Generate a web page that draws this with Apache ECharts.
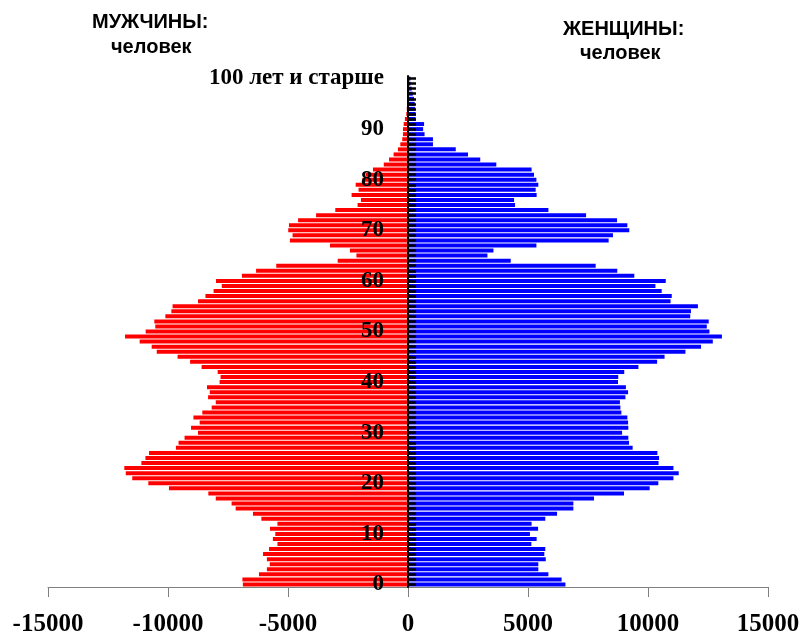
<!DOCTYPE html>
<html>
<head>
<meta charset="utf-8">
<script src="https://cdn.jsdelivr.net/npm/echarts@6/dist/echarts.min.js"></script>
<style>
html,body{margin:0;padding:0;background:#fff;}
#chart{width:803px;height:637px;}
</style>
</head>
<body>
<div id="chart"></div>
<script>
// Ages 0..100 (last = "100 лет и старше")
const ages = Array.from({length: 101}, (_, i) => String(i));
const topAgeLabel = '100 лет и старше';

// Men, persons (drawn to the left as negative values), age 0..100
const men = [
  6880, 6900, 6210, 5880, 5760, 5880, 6040, 5790, 5440, 5630,
  5530, 5750, 5440, 6110, 6460, 7180, 7350, 8010, 8320, 9960,
  10820, 11490, 11760, 11820, 11110, 10940, 10790, 9670, 9560, 9310,
  8750, 9040, 8680, 8940, 8570, 8180, 8010, 8330, 8260, 8375,
  7850, 7810, 7930, 8600, 9080, 9600, 10470, 10680, 11180, 11790,
  10930, 10530, 10570, 10110, 9860, 9810, 8750, 8440, 8100, 7760,
  8000, 6920, 6330, 5490, 2930, 2150, 2420, 3250, 4920, 4810,
  4990, 4960, 4580, 3830, 3030, 2100, 1960, 2350, 2060, 2180,
  1900, 1750, 1460, 1010, 790, 600, 420, 320, 240, 210,
  210, 180, 130, 70, 50, 40, 30, 20, 20, 10,
  10
];

// Women, persons, age 0..100
const women = [
  6560, 6400, 5850, 5430, 5430, 5740, 5680, 5720, 5140, 5360,
  5080, 5420, 5150, 5720, 6210, 6890, 6890, 7750, 9000, 10070,
  10430, 11060, 11280, 11060, 10440, 10460, 10390, 9360, 9210, 9180,
  8920, 9180, 9170, 9140, 8890, 8850, 8830, 9060, 9170, 9080,
  8750, 8760, 9010, 9600, 10380, 10690, 11560, 12210, 12700, 13080,
  12560, 12450, 12530, 11760, 11790, 12080, 10940, 10990, 10570, 10310,
  10740, 9430, 8720, 7820, 4280, 3310, 3560, 5350, 8360, 8540,
  9220, 9140, 8710, 7420, 5850, 4460, 4420, 5360, 5320, 5430,
  5350, 5250, 5150, 3680, 3010, 2500, 1990, 1040, 1040, 690,
  630, 670, 320, 320, 300, 280, 250, 200, 150, 100,
  100
];

const xTicks = [-15000, -10000, -5000, 0, 5000, 10000, 15000];

const GRID_LEFT = 48, GRID_RIGHT = 35;
const plotW = 803 - GRID_LEFT - GRID_RIGHT;
// shift the category axis from the grid's left edge to the x = 0 line
const zeroOffset = -plotW * (0 - xTicks[0]) / (xTicks[xTicks.length - 1] - xTicks[0]);

const chart = echarts.init(document.getElementById('chart'));
chart.setOption({
  animation: false,
  backgroundColor: '#ffffff',
  grid: { left: GRID_LEFT, right: GRID_RIGHT, top: 76, bottom: 50, containLabel: false, outerBoundsMode: 'none' },
  xAxis: {
    type: 'value',
    min: xTicks[0],
    max: xTicks[xTicks.length - 1],
    interval: 5000,
    position: 'bottom',
    axisLine: { show: true, onZero: false, lineStyle: { color: '#808080', width: 1 } },
    axisTick: { show: true, length: 10, lineStyle: { color: '#808080', width: 1 } },
    splitLine: { show: false },
    axisLabel: {
      margin: 25,
      color: '#000',
      formatter: function (v) { return String(v); },
      fontFamily: '"Liberation Serif", "Times New Roman", serif',
      fontWeight: 'bold',
      fontSize: 25
    }
  },
  yAxis: {
    type: 'category',
    data: ages,
    z: 10,
    position: 'left',
    offset: zeroOffset,
    axisLine: { show: true, onZero: false, lineStyle: { color: '#000', width: 2 } },
    axisTick: {
      show: true, inside: true, length: 8, interval: 0, alignWithLabel: true,
      lineStyle: { color: '#000', width: 2.5 }
    },
    splitLine: { show: false },
    axisLabel: {
      interval: function (i) { return i % 10 === 0; },
      formatter: function (v, i) { return i === 100 ? topAgeLabel : v; },
      margin: 24,
      color: '#000',
      fontFamily: '"Liberation Serif", "Times New Roman", serif',
      fontWeight: 'bold',
      fontSize: 23
    }
  },
  series: [
    {
      name: 'Мужчины',
      type: 'bar',
      stack: 'pop',
      barWidth: 4,
      itemStyle: { color: '#ff0000' },
      data: men.map(v => -v)
    },
    {
      name: 'Женщины',
      type: 'bar',
      stack: 'pop',
      barWidth: 4,
      itemStyle: { color: '#0000ff' },
      data: women
    }
  ],
  graphic: [
    { type: 'text', x: 92, y: 22, style: { text: 'МУЖЧИНЫ:', font: 'bold 20px "Liberation Sans", Arial, sans-serif', fill: '#000', textVerticalAlign: 'middle' } },
    { type: 'text', x: 111, y: 47, style: { text: 'человек', font: 'bold 20px "Liberation Sans", Arial, sans-serif', fill: '#000', textVerticalAlign: 'middle' } },
    { type: 'text', x: 563, y: 29, style: { text: 'ЖЕНЩИНЫ:', font: 'bold 20px "Liberation Sans", Arial, sans-serif', fill: '#000', textVerticalAlign: 'middle' } },
    { type: 'text', x: 580, y: 53, style: { text: 'человек', font: 'bold 20px "Liberation Sans", Arial, sans-serif', fill: '#000', textVerticalAlign: 'middle' } }
  ]
});
</script>
</body>
</html>
